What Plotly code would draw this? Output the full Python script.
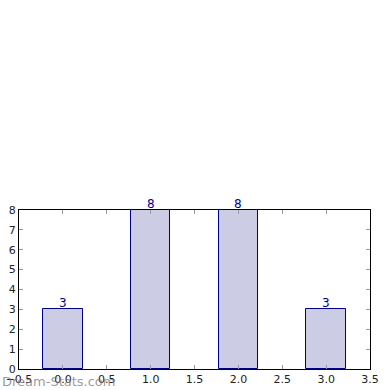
import plotly.graph_objects as go

categories = [0, 1, 2, 3]
values = [3, 8, 8, 3]
labels = ["3", "8", "8", "3"]
x_ticks = [-0.5, 0.0, 0.5, 1.0, 1.5, 2.0, 2.5, 3.0, 3.5]
x_ticklabels = ["\u22120.5", "0.0", "0.5", "1.0", "1.5", "2.0", "2.5", "3.0", "3.5"]
y_ticks = [0, 1, 2, 3, 4, 5, 6, 7, 8]

fig = go.Figure()
fig.add_trace(go.Bar(
    x=categories, y=values, width=0.45,
    marker=dict(color="#ccccE5", line=dict(color="#00008B", width=1)),
    cliponaxis=False,
))
for c, v, t in zip(categories, values, labels):
    fig.add_annotation(
        x=c, y=v, text=t, xref="x", yref="y", showarrow=False,
        xanchor="center", yanchor="bottom", yshift=-3,
        font=dict(color="#00008B", size=12, family="DejaVu Sans"),
    )

fig.update_layout(
    width=390, height=390,
    margin=dict(l=19, r=20, t=210, b=21),
    plot_bgcolor="white", paper_bgcolor="white",
    showlegend=False,
    font=dict(family="DejaVu Sans", size=11, color="#222222"),
    bargap=0,
)
fig.update_xaxes(
    range=[-0.5, 3.5], tickvals=x_ticks, ticktext=x_ticklabels,
    ticks="inside", ticklen=4, tickcolor="#999999",
    showline=True, linecolor="black", linewidth=1, mirror="allticks",
    showgrid=False, zeroline=False, automargin=False,
)
fig.update_yaxes(
    range=[0, 8], tickvals=y_ticks,
    ticks="inside", ticklen=4, tickcolor="#999999",
    showline=True, linecolor="black", linewidth=1, mirror="allticks",
    showgrid=False, zeroline=False, automargin=False,
)
fig.add_annotation(
    text="Dream-Stats.com", xref="paper", yref="paper",
    x=-0.055, y=-0.08, xanchor="left", yanchor="middle",
    showarrow=False, font=dict(size=13, color="rgba(120,120,120,0.75)", family="DejaVu Sans"),
)
fig.write_html("out.html")
